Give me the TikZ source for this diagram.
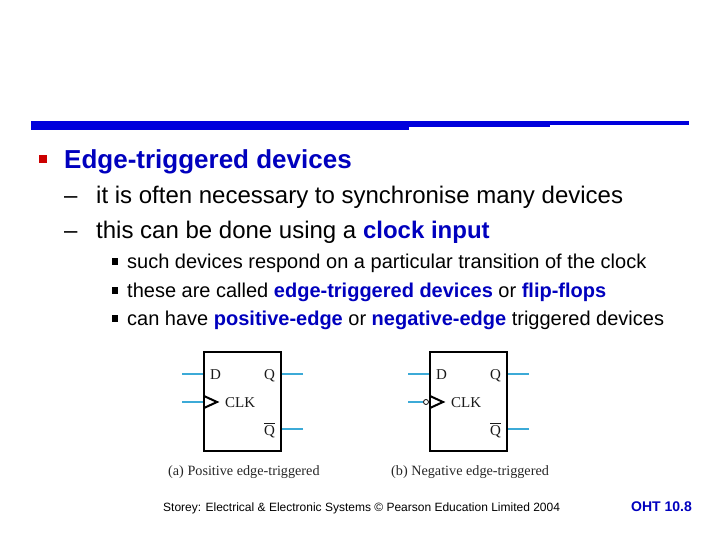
\documentclass[tikz,border=0pt]{standalone}
\usepackage{fontspec}
\setmainfont{Liberation Sans}
\newfontfamily\figfont{Liberation Serif}
\usepackage{xcolor}
\definecolor{barblue}{RGB}{0,0,220}
\definecolor{headblue}{RGB}{0,0,190}
\definecolor{bulletred}{RGB}{204,0,0}
\definecolor{leadblue}{RGB}{60,170,215}
\newcommand{\kw}[1]{\textbf{\textcolor{headblue}{#1}}}
\tikzset{
  bar/.style={fill=barblue,draw=none},
  txt/.style={anchor=base west,inner sep=0pt,text=black},
  headtxt/.style={txt,font=\fontsize{26}{26}\selectfont\bfseries,text=headblue},
  midtxt/.style={txt,font=\fontsize{24}{24}\selectfont},
  lowtxt/.style={txt,font=\fontsize{20}{20}\selectfont},
  foot/.style={txt,font=\fontsize{12}{14}\selectfont},
  square/.style={fill=bulletred,draw=none,inner sep=0pt},
  subsquare/.style={fill=black,draw=none,inner sep=0pt,minimum size=6.5pt},
  ffbox/.style={draw,line width=2pt,minimum width=77pt,minimum height=99pt,inner sep=0pt},
  lead/.style={draw=leadblue,line width=2pt},
  pinlabel/.style={anchor=base west,inner sep=0pt,font=\figfont\fontsize{15}{15}\selectfont,text=black!90},
  caption/.style={anchor=base west,inner sep=0pt,font=\figfont\fontsize{14.2}{14}\selectfont,text=black!85},
  clockmark/.style={draw,line width=2pt,line join=miter}
}
\begin{document}
\begin{tikzpicture}[x=1pt,y=-1pt]
\useasboundingbox (0,0) rectangle (720,540);
% rule under the title area
\fill[bar] (31,121) rectangle (409,130);
\fill[bar] (409,121) rectangle (550,127);
\fill[bar] (550,121) rectangle (689,125);
% text
\node [square, minimum size=8pt] (sq0) at (43,159) {};
\node [headtxt] (title) at (64,169) {Edge-triggered devices};
\node [midtxt] (dash1) at (64,204) {–};
\node [midtxt] (line1) at (96,204) {it is often necessary to synchronise many devices};
\node [midtxt] (dash2) at (64,238) {–};
\node [midtxt] (line2) at (96,238) {this can be done using a \kw{clock input}};
\node [subsquare] (sq1) at (115,261.5) {};
\node [lowtxt] (sub1) at (127,268) {such devices respond on a particular transition of the clock};
\node [subsquare] (sq2) at (115,290.5) {};
\node [lowtxt] (sub2) at (127,297) {these are called \kw{edge-triggered devices} or \kw{flip-flops}};
\node [subsquare] (sq3) at (115,318.5) {};
\node [lowtxt] (sub3) at (127,325) {can have \kw{positive-edge} or \kw{negative-edge} triggered devices};
% positive edge
\node [ffbox] (ffa) at (242.5,401.5) {};
\coordinate (aD) at (182,374);
\coordinate (aC) at (182,402);
\coordinate (aQ) at (303,374);
\coordinate (aN) at (303,429);
\draw [lead] (aD) -- (aD -| ffa.west);
\draw [lead] (aC) -- (aC -| ffa.west);
\draw [lead] (aQ) -- (aQ -| ffa.east);
\draw [lead] (aN) -- (aN -| ffa.east);
\draw [clockmark] (204,396) -- (217,402) -- (204,408);
\node [pinlabel] (aDt) at (210,379) {D};
\node [pinlabel] (aCt) at (225,407) {CLK};
\node [pinlabel] (aQt) at (264,379) {Q};
\node [pinlabel] (aNt) at (264,435) {$\overline{\mbox{Q}}$};
\node [caption] (acap) at (168,475) {(a) Positive edge-triggered};
% negative edge
\node [ffbox] (ffb) at (468.5,401.5) {};
\coordinate (bD) at (408,374);
\coordinate (bC) at (408,402);
\coordinate (bQ) at (529,374);
\coordinate (bN) at (529,429);
\node [circle, draw, line width=.8pt, minimum size=5pt, inner sep=0pt, fill=white] (bub) at (426,402) {};
\draw [lead] (bD) -- (bD -| ffb.west);
\draw [lead] (bC) -- (bub.west);
\draw [lead] (bQ) -- (bQ -| ffb.east);
\draw [lead] (bN) -- (bN -| ffb.east);
\draw [clockmark] (430,396) -- (443,402) -- (430,408);
\node [pinlabel] (bDt) at (436,379) {D};
\node [pinlabel] (bCt) at (451,407) {CLK};
\node [pinlabel] (bQt) at (490,379) {Q};
\node [pinlabel] (bNt) at (490,435) {$\overline{\mbox{Q}}$};
\node [caption] (bcap) at (391,475) {(b) Negative edge-triggered};
% footer
\node [foot] (source) at (163,511) {Storey: Electrical \& Electronic Systems © Pearson Education Limited 2004};
\node [foot, font=\fontsize{14}{14}\selectfont\bfseries, text=headblue] (oht) at (631,511) {OHT 10.8};
\end{tikzpicture}
\end{document}
